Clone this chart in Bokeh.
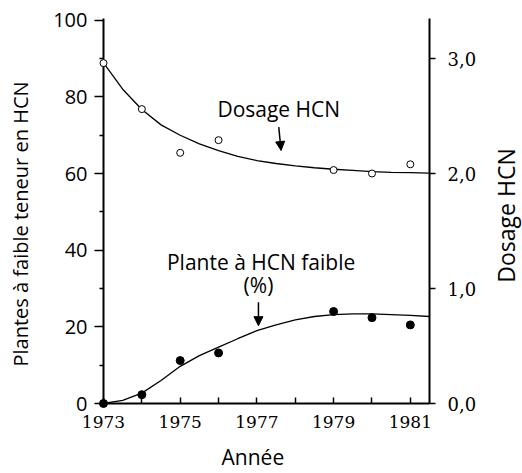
import math
from bokeh.plotting import figure
from bokeh.layouts import row
from bokeh.models import Range1d, LinearAxis, FixedTicker, Label, Arrow, NormalHead
from bokeh.embed import file_html
from bokeh.resources import INLINE

# ---- data ----
years = [1973, 1974, 1975, 1976, 1979, 1980, 1981]
dosage = [2.96, 2.56, 2.18, 2.29, 2.03, 2.00, 2.08]          # Dosage HCN (right axis)
low_hcn_pct = [0.0, 2.3, 11.2, 13.2, 24.0, 22.4, 20.5]        # Plantes à faible teneur en HCN (%)

curve_years = [1973.0, 1973.5, 1974.0, 1974.5, 1975.0, 1975.5, 1976.0, 1976.5, 1977.0,
               1977.5, 1978.0, 1978.5, 1979.0, 1979.5, 1980.0, 1980.5, 1981.0, 1981.5]
dosage_curve = [2.963, 2.733, 2.557, 2.423, 2.333, 2.257, 2.200, 2.150, 2.113,
                2.087, 2.067, 2.050, 2.037, 2.027, 2.017, 2.010, 2.007, 2.003]
pct_curve = [0.0, 0.8, 2.7, 6.0, 9.7, 12.5, 14.7, 16.9, 19.0,
             20.5, 21.8, 22.7, 23.2, 23.4, 23.4, 23.2, 23.0, 22.7]

x_ticks = [1973, 1975, 1977, 1979, 1981]
x_minor_ticks = [1974, 1976, 1978, 1980]
pct_ticks = [0, 20, 40, 60, 80, 100]
pct_minor_ticks = [10, 30, 50, 70, 90]
dose_ticks = [0, 1, 2, 3]
dose_tick_labels = ["0,0", "1,0", "2,0", "3,0"]

X_START, X_END = 1973, 1981.5
PCT_TOP = 100.44
SANS = "Open Sans"
SERIF = "DejaVu Serif"
NB = "\u00a0"

p = figure(frame_width=326, frame_height=385, output_backend="svg", toolbar_location=None,
           x_range=Range1d(X_START, X_END), y_range=Range1d(0, PCT_TOP),
           min_border_left=103, min_border_right=61, min_border_top=18, min_border_bottom=70)
p.extra_y_ranges = {"dose": Range1d(0, PCT_TOP / 30.0)}
p.outline_line_color = None
p.xgrid.visible = False
p.ygrid.visible = False
p.background_fill_color = "white"
p.border_fill_color = "white"

# bottom axis
xa = p.xaxis[0]
xa.ticker = FixedTicker(ticks=x_ticks, minor_ticks=x_minor_ticks)
xa.axis_label = "Année" + NB * 5
xa.axis_line_width = 2
xa.major_tick_in = 6
xa.major_tick_out = 0
xa.minor_tick_in = 6
xa.minor_tick_out = 0
xa.major_tick_line_width = 1.5
xa.minor_tick_line_width = 1.5
xa.major_label_text_font = SERIF
xa.major_label_text_font_size = "17px"
xa.major_label_text_color = "black"
xa.major_label_standoff = 12
xa.axis_label_text_font = SANS
xa.axis_label_text_font_size = "21px"
xa.axis_label_text_font_style = "normal"
xa.axis_label_text_color = "black"
xa.axis_label_standoff = 12

# left axis
ya = p.yaxis[0]
ya.ticker = FixedTicker(ticks=pct_ticks, minor_ticks=pct_minor_ticks)
ya.axis_label = "Plantes à faible teneur en HCN" + NB * 5
ya.axis_line_width = 2
ya.major_tick_out = 9
ya.major_tick_in = 0
ya.minor_tick_out = 4
ya.minor_tick_in = 0
ya.major_tick_line_width = 1.5
ya.minor_tick_line_width = 1.5
ya.major_label_text_font = SANS
ya.major_label_text_font_size = "20px"
ya.major_label_text_color = "black"
ya.major_label_standoff = 7
ya.axis_label_text_font = SANS
ya.axis_label_text_font_size = "20px"
ya.axis_label_text_font_style = "normal"
ya.axis_label_text_color = "black"
ya.axis_label_standoff = 16

# right axis (its title is drawn in the narrow strip to the right)
ra = LinearAxis(y_range_name="dose",
                ticker=FixedTicker(ticks=dose_ticks, minor_ticks=[]),
                major_label_overrides=dict(zip(dose_ticks, dose_tick_labels)))
ra.axis_line_width = 2
ra.major_tick_out = 6
ra.major_tick_in = 0
ra.major_tick_line_width = 1.5
ra.minor_tick_line_color = None
ra.major_label_text_font = SERIF
ra.major_label_text_font_size = "18px"
ra.major_label_text_color = "black"
ra.major_label_standoff = 12
p.add_layout(ra, "right")

# curves
p.line(curve_years, dosage_curve, y_range_name="dose", line_color="black", line_width=1.3)
p.line(curve_years, pct_curve, line_color="black", line_width=1.3)

# points
p.scatter(years, dosage, y_range_name="dose", size=7, fill_color="white",
          line_color="black", line_width=1, level="overlay")
p.scatter(years, low_hcn_pct, size=8, fill_color="black", line_color="black", level="overlay")

# annotations
p.add_layout(Label(x=1977.57, y=76.9, text="Dosage HCN", text_align="center",
                   text_baseline="middle", text_font=SANS, text_font_size="21px",
                   text_color="black"))
p.add_layout(Arrow(x_start=1977.57, y_start=72.1, x_end=1977.63, y_end=66.0,
                   line_width=1.5, line_color="black",
                   end=NormalHead(size=9, fill_color="black", line_color="black")))
p.add_layout(Label(x=1977.11, y=36.9, text="Plante à HCN faible", text_align="center",
                   text_baseline="middle", text_font=SANS, text_font_size="21px",
                   text_color="black"))
p.add_layout(Label(x=1977.04, y=30.8, text="(%)", text_align="center",
                   text_baseline="middle", text_font=SANS, text_font_size="21px",
                   text_color="black"))
p.add_layout(Arrow(x_start=1977.04, y_start=26.4, x_end=1977.04, y_end=20.3,
                   line_width=1.5, line_color="black",
                   end=NormalHead(size=9, fill_color="black", line_color="black")))

# strip holding the right-hand axis title, reading bottom to top
STRIP_W, STRIP_H = 32, 473
q = figure(width=STRIP_W, height=STRIP_H, output_backend="svg", toolbar_location=None,
           x_range=Range1d(0, STRIP_W), y_range=Range1d(0, STRIP_H),
           x_axis_location=None, y_axis_location=None, min_border=0)
q.outline_line_color = None
q.xgrid.visible = False
q.ygrid.visible = False
q.add_layout(Label(x=15, y=231, text="Dosage HCN", angle=math.pi / 2,
                   text_align="center", text_baseline="middle", text_font=SANS,
                   text_font_size="23px", text_color="black"))

layout = row(p, q)
open("out.html", "w").write(file_html(layout, INLINE))
